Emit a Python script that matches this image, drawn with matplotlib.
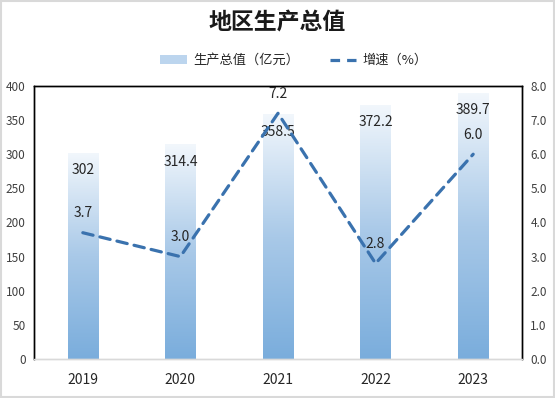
import matplotlib
matplotlib.use("Agg")
import matplotlib.pyplot as plt
import numpy as np
from matplotlib.patches import Patch, Rectangle
from matplotlib.lines import Line2D
from matplotlib.colors import LinearSegmentedColormap

plt.rcParams['font.family'] = ['Noto Sans CJK SC', 'DejaVu Sans']

years = ['2019', '2020', '2021', '2022', '2023']
gdp = [302, 314.4, 358.5, 372.2, 389.7]
gdp_labels = ['302', '314.4', '358.5', '372.2', '389.7']
growth = [3.7, 3.0, 7.2, 2.8, 6.0]
left_ticks = [0, 50, 100, 150, 200, 250, 300, 350, 400]
right_ticks = [0, 1, 2, 3, 4, 5, 6, 7, 8]

fig = plt.figure(figsize=(5.55, 3.98), dpi=100)
ax = fig.add_axes([0.0613, 0.098, 0.8792, 0.686])
ax2 = ax.twinx()

x = np.arange(len(years))
bars = ax.bar(x, gdp, width=0.31, color='none', edgecolor='none')
cmap = LinearSegmentedColormap.from_list('g', ['#7AADDC', '#A9C9E8', '#F2F7FC'])
grad = np.linspace(0, 1, 256).reshape(-1, 1)
for b in bars:
    x0, w, h = b.get_x(), b.get_width(), b.get_height()
    im = ax.imshow(grad, cmap=cmap, origin='lower', aspect='auto',
                   extent=(x0, x0 + w, 0, h), zorder=1)
    im.set_clip_path(b)

ax.set_xlim(-0.5, len(years) - 0.5)
ax.set_ylim(0, 400)
ax.set_yticks(left_ticks)
ax.set_xticks(x)
ax.set_xticklabels(years, fontsize=10, color='#262626')
ax.tick_params(axis='y', length=0, labelsize=8.5, labelcolor='#404040', pad=6)
ax.tick_params(axis='x', length=0, pad=10)

for xi, v, lab in zip(x, gdp, gdp_labels):
    ax.annotate(lab, (xi, v), xytext=(0, -12.5), textcoords='offset points',
                ha='center', va='center', fontsize=10, color='#262626', zorder=5)

ax2.plot(x, growth, color='#3A72AE', lw=2.3, dashes=(3.3, 2.2),
         dash_capstyle='round')
ax2.set_ylim(0, 8)
ax2.set_yticks(right_ticks)
ax2.set_yticklabels([f'{t:.1f}' for t in right_ticks])
ax2.tick_params(axis='y', length=0, labelsize=8.5, labelcolor='#404040', pad=6)
for xi, v in zip(x, growth):
    ax2.annotate(f'{v:.1f}', (xi, v), xytext=(0, 14), textcoords='offset points',
                 ha='center', va='center', fontsize=10, color='#262626')

for a in (ax, ax2):
    for s in ('left', 'top', 'right'):
        a.spines[s].set_color('black')
        a.spines[s].set_linewidth(1.0)
    a.spines['bottom'].set_color('#D9D9D9')
    a.spines['bottom'].set_linewidth(1.0)

fig.text(0.5, 0.945, '地区生产总值', ha='center', va='center', fontsize=16.5,
         fontweight='bold', color='#1a1a1a')

handles = [Patch(facecolor='#BCD5EE', edgecolor='none'),
           Line2D([0], [0], color='#3A72AE', lw=2.3, dashes=(3.0, 2.2))]
fig.legend(handles, ['生产总值（亿元）', '增速（%）'], loc='center',
           bbox_to_anchor=(0.53, 0.848), ncol=2, frameon=False, fontsize=9.5,
           handlelength=2.0, handleheight=0.6, columnspacing=2.3,
           handletextpad=0.5, labelcolor='#262626')

fig.patches.append(Rectangle((0.002, 0.003), 0.996, 0.994, transform=fig.transFigure,
                             fill=False, edgecolor='#D9D9D9', lw=1.5))

fig.savefig('out.png', dpi=100)
